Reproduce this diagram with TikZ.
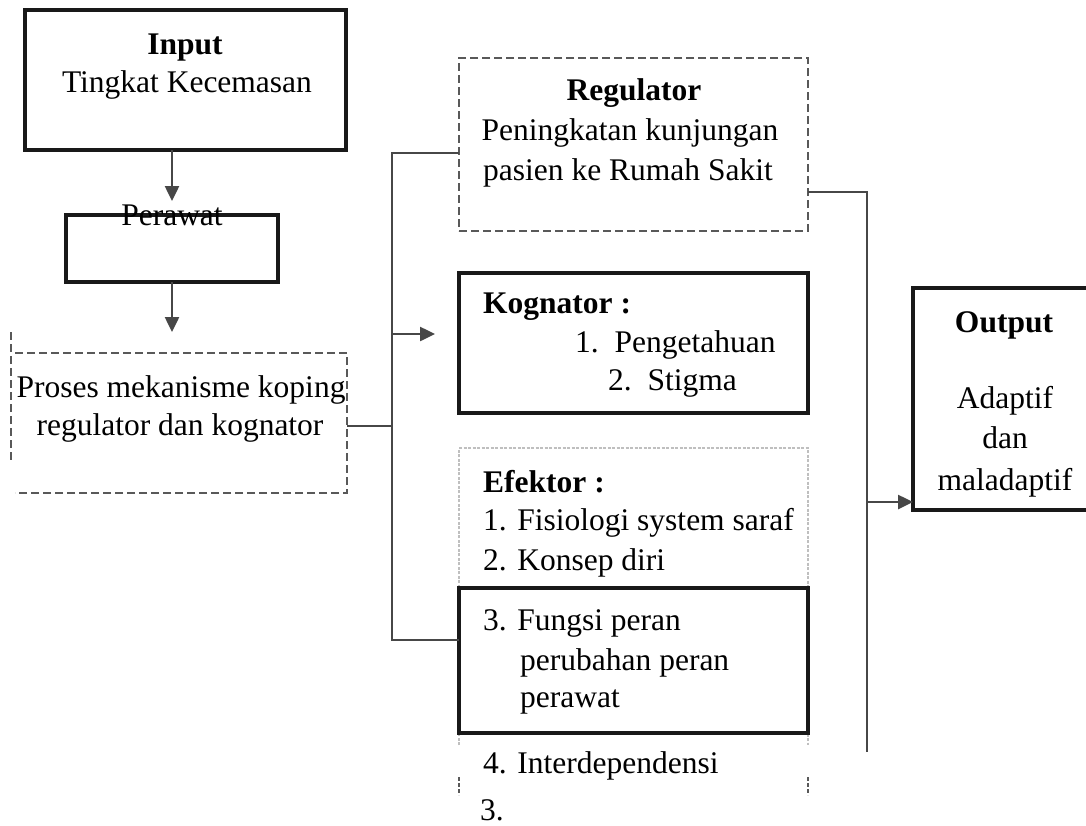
\documentclass[tikz,border=0pt]{standalone}
\usepackage{fontspec}
\setmainfont{Liberation Serif}
\usetikzlibrary{arrows.meta}
\begin{document}
\begin{tikzpicture}[x=1pt,y=-1pt,
  txt/.style={font=\fontsize{31.5}{38}\selectfont, inner sep=0pt},
  boxshape/.style={rectangle, inner sep=0pt, outer sep=0pt},
  solidbox/.style={boxshape, draw=black!90, line width=3.2pt},
  dashbox/.style={draw=black!65, line width=2.4pt, dash pattern=on 8pt off 4pt},
  dotbox/.style={draw=black!25, line width=1.8pt, dash pattern=on 3pt off 1.5pt},
  conn/.style={draw=black!72, line width=2.5pt},
  arr/.style={-{Triangle[width=14pt,length=15pt]}}]
\fill[white] (0,0) rectangle (1086,825);
\useasboundingbox (0,0) rectangle (1086,825);

% boxes
\node[solidbox, minimum width=321pt, minimum height=140pt] (input) at (185.5,80) {};
\node[solidbox, minimum width=212pt, minimum height=67pt] (perawat) at (172,248.5) {};
\node[boxshape, minimum width=332pt, minimum height=140pt] (proses) at (181,423) {};
\node[boxshape, dashbox, minimum width=349pt, minimum height=173pt] (regulator) at (633.5,144.5) {};
\node[solidbox, minimum width=349pt, minimum height=140pt] (kognator) at (633.5,343) {};
\node[boxshape, minimum width=349pt, minimum height=297pt] (efektor) at (633.5,596.5) {};
\draw[dotbox] (efektor.south west) -- (efektor.north west) -- (efektor.north east) -- (efektor.south east);
\node[solidbox, fill=white, minimum width=349pt, minimum height=145pt] (fungsi) at (633.5,660.5) {};
\node[boxshape, minimum width=173pt, minimum height=222pt] (output) at (999.5,399) {};

% open / partial outlines
\draw[dashbox] (proses.north west) -- (proses.north east) -- (proses.south east) -- (proses.south west);
\coordinate (pl1) at (11,332);
\coordinate (pl2) at (11,460);
\draw[dashbox] (pl1) -- (pl2);
\coordinate (e1) at (459,777); \coordinate (e2) at (459,795);
\coordinate (e3) at (808,777); \coordinate (e4) at (808,795);
\draw[dashbox, dash pattern=on 4pt off 2pt, line width=1.5pt] (e1) -- (e2);
\draw[dashbox, dash pattern=on 4pt off 2pt, line width=1.5pt] (e3) -- (e4);
\draw[black!90, line width=3.2pt] (output.north east) -- (output.north west) -- (output.south west) -- (output.south east);

% texts
\node[txt, anchor=base, font=\fontsize{31.5}{38}\selectfont\bfseries] (tin1) at (185,54) {Input};
\node[txt, anchor=base] (tin2) at (187,92) {Tingkat Kecemasan};
\node[txt, anchor=base] (tper) at (172,225) {Perawat};
\node[txt, anchor=base] (tpr1) at (181,397) {Proses mekanisme koping};
\node[txt, anchor=base] (tpr2) at (180,435) {regulator dan kognator};
\node[txt, anchor=base, font=\fontsize{31.5}{38}\selectfont\bfseries] (treg1) at (634,100) {Regulator};
\node[txt, anchor=base] (treg2) at (630,140) {Peningkatan kunjungan};
\node[txt, anchor=base] (treg3) at (628,180) {pasien ke Rumah Sakit};
\node[txt, anchor=base west, font=\fontsize{31.5}{38}\selectfont\bfseries] (tkog1) at (483,313) {Kognator :};
\node[txt, anchor=base west] (tkog2) at (575,352) {1.\ \ Pengetahuan};
\node[txt, anchor=base west] (tkog3) at (608,390) {2.\ \ Stigma};
\node[txt, anchor=base west, font=\fontsize{31.5}{38}\selectfont\bfseries] (tef1) at (483,492) {Efektor :};
\node[txt, anchor=base west] (tef2) at (483,530) {1. Fisiologi system saraf};
\node[txt, anchor=base west] (tef3) at (483,570) {2. Konsep diri};
\node[txt, anchor=base west] (tef4) at (483,630) {3. Fungsi peran};
\node[txt, anchor=base west] (tef5) at (520,670) {perubahan peran};
\node[txt, anchor=base west] (tef6) at (520,707) {perawat};
\node[txt, anchor=base west] (tef7) at (483,773) {4. Interdependensi};
\node[txt, anchor=base west] (tef8) at (480,820) {3.};
\node[txt, anchor=base, font=\fontsize{31.5}{38}\selectfont\bfseries] (tout1) at (1004,332) {Output};
\node[txt, anchor=base] (tout2) at (1005,408) {Adaptif};
\node[txt, anchor=base] (tout3) at (1005,448) {dan};
\node[txt, anchor=base] (tout4) at (1005,490) {maladaptif};

% connectors
\coordinate (a1) at (172,201);
\draw[conn, arr] (input.south -| a1) -- (a1);
\coordinate (a2) at (172,332);
\draw[conn, arr] (perawat.south -| a2) -- (a2);
\coordinate (j1) at (392,426);
\draw[conn] (proses.east |- j1) -- (j1);
\coordinate (jt) at (392,153);
\coordinate (jb) at (392,640);
\draw[conn] (regulator.west |- jt) -- (jt) -- (jb) -- (fungsi.west |- jb);
\coordinate (ja) at (392,334);
\coordinate (ja2) at (435,334);
\draw[conn, arr] (ja) -- (ja2);
\coordinate (r1) at (867,192);
\coordinate (r2) at (867,752);
\draw[conn] (regulator.east |- r1) -- (r1) -- (r2);
\coordinate (r3) at (867,502);
\draw[conn, arr] (r3) -- (output.west |- r3);
\end{tikzpicture}
\end{document}
